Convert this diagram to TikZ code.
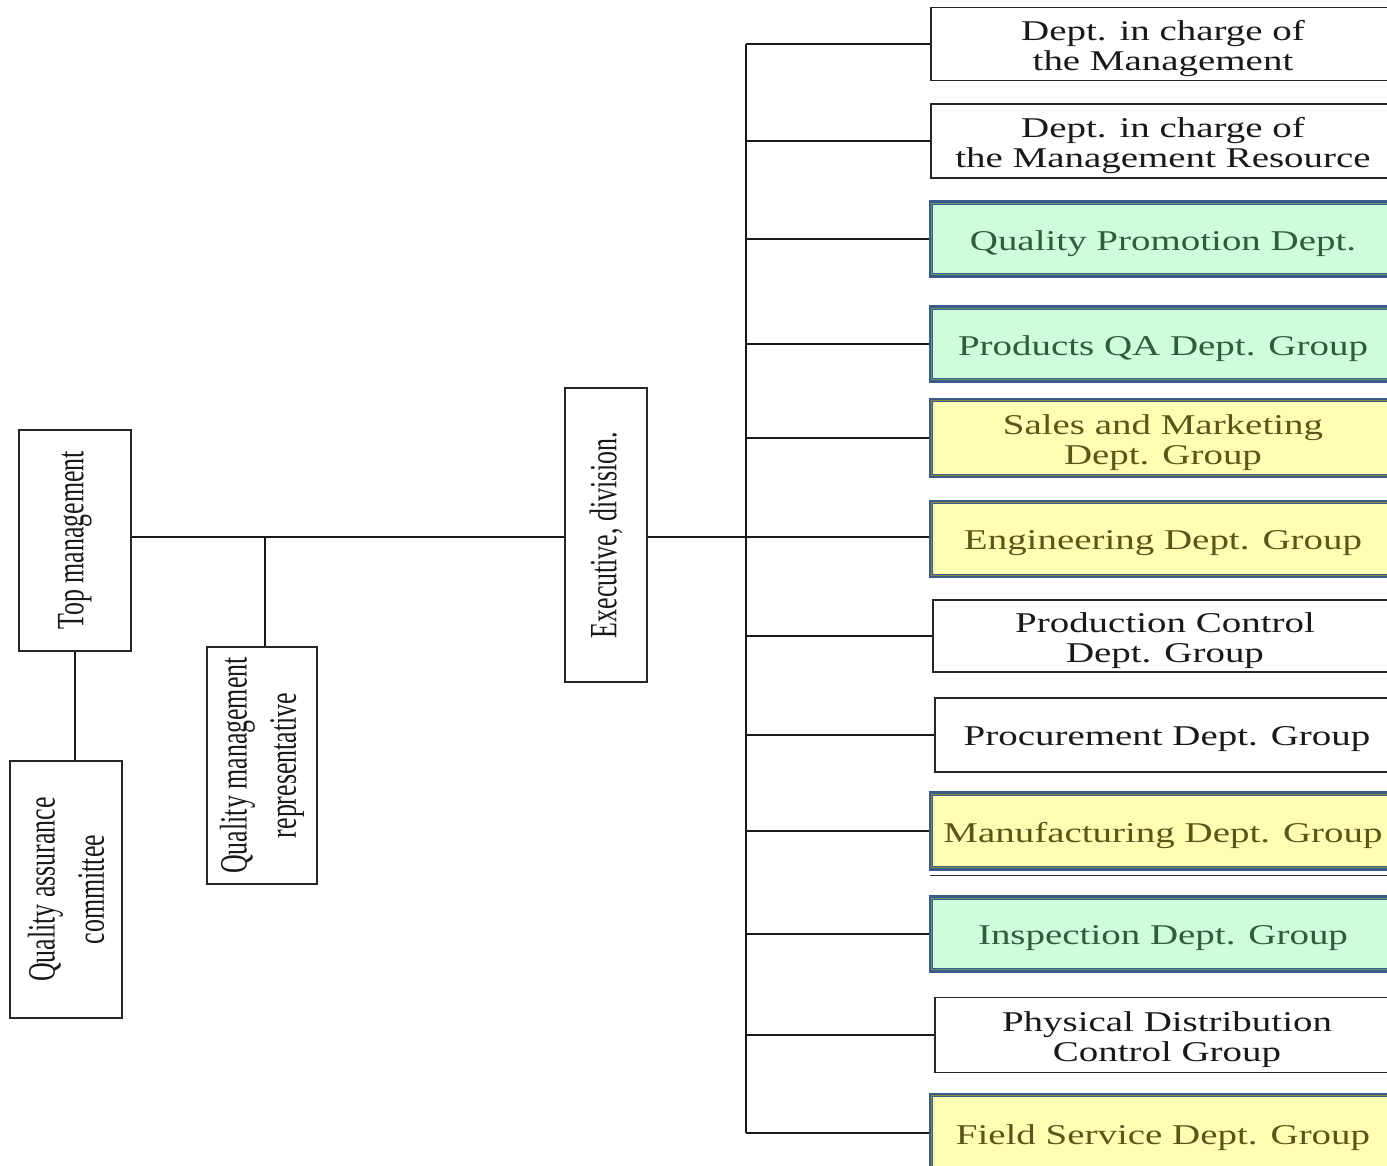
\documentclass[tikz,border=0pt]{standalone}
\usepackage{fontspec}
\setmainfont{Liberation Serif}
\newfontfamily\widefont[FakeStretch=1.36]{Liberation Serif}
\newfontfamily\narrowfont[FakeStretch=0.67]{Liberation Serif}

\definecolor{frameblue}{HTML}{3A5C8C}
\definecolor{mint}{HTML}{CEFCDD}
\definecolor{mintline}{HTML}{5E9A6A}
\definecolor{minttext}{HTML}{2D5E3A}
\definecolor{lemon}{HTML}{FFFFB3}
\definecolor{lemonline}{HTML}{8B8B3A}
\definecolor{lemontext}{HTML}{5A561A}

% department box: #1 style, #2 name, #3 centre, #4 height, #5 text
\newcommand\deptbox[5]{%
  \node[#1, minimum height=#4] (#2) at #3 {};
  \node[#1 label] (#2-label) at ([yshift=-2.4pt]#2.center) {#5};}

\begin{document}
\begin{tikzpicture}[x=0.02cm, y=-0.02cm,
  conn/.style={draw=black!90, line width=0.85pt},
  vbox/.style={draw=black!85, line width=0.8pt, fill=white, rotate=90,
    inner sep=0pt, align=center, text=black!90,
    font=\narrowfont\fontsize{22}{28}\selectfont},
  dept/.style={draw=black!85, line width=0.8pt, fill=white,
    minimum width=9.28cm, inner sep=0pt},
  gdept/.style={dept, draw=frameblue, line width=2.7pt, fill=mint},
  ydept/.style={dept, draw=frameblue, line width=2.7pt, fill=lemon},
  dept label/.style={inner sep=0pt, align=center, text=black!90,
    font=\widefont\fontsize{16.3}{17}\selectfont},
  gdept label/.style={dept label, text=minttext},
  ydept label/.style={dept label, text=lemontext}]

\useasboundingbox (0,0) rectangle (1387,1166);
\clip (0,0) rectangle (1387,1166);

% left-hand hierarchy (vertical labels)
\node[vbox, minimum width=4.42cm, minimum height=2.24cm] (tm)   at (75,540.5) {Top management};
\node[vbox, minimum width=5.14cm, minimum height=2.24cm] (qac)  at (66,889.5) {Quality assurance\\committee};
\node[vbox, minimum width=4.74cm, minimum height=2.20cm] (qmr)  at (262,765.5) {Quality management\\representative};
\node[vbox, minimum width=5.88cm, minimum height=1.64cm] (exec) at (606,535) {Executive, division.};

% departments
\deptbox{dept} {dm}  {(1163,44)}  {1.46cm}{Dept. in charge of\\the Management}
\deptbox{dept} {dmr} {(1163,141)} {1.48cm}{Dept. in charge of\\the Management Resource}
\deptbox{gdept}{qp}  {(1163,239)} {1.46cm}{Quality Promotion Dept.}
\deptbox{gdept}{pqa} {(1163,344)} {1.46cm}{Products QA Dept. Group}
\deptbox{ydept}{sm}  {(1163,438)} {1.52cm}{Sales and Marketing\\Dept. Group}
\deptbox{ydept}{eng} {(1163,539)} {1.48cm}{Engineering Dept. Group}
\deptbox{dept} {pc}  {(1165,636)} {1.44cm}{Production Control\\Dept. Group}
\deptbox{dept} {proc}{(1167,735)} {1.48cm}{Procurement Dept. Group}
\deptbox{ydept}{mfg} {(1163,831)} {1.50cm}{Manufacturing Dept. Group}
\deptbox{gdept}{insp}{(1163,934)} {1.46cm}{Inspection Dept. Group}
\deptbox{dept} {pd}  {(1167,1035)}{1.50cm}{Physical Distribution\\Control Group}
\deptbox{ydept}{fs}  {(1163,1133)}{1.52cm}{Field Service Dept. Group}

% inner rule of the highlighted departments
\foreach \n/\c in {qp/mintline, pqa/mintline, sm/lemonline, eng/lemonline,
                   mfg/lemonline, insp/mintline, fs/lemonline}
  \draw[\c, line width=0.6pt] ([shift={(1.7pt,-1.7pt)}]\n.north west)
     rectangle ([shift={(-1.7pt,1.7pt)}]\n.south east);
\draw[black!80, line width=0.6pt] ([shift={(1pt,-2.7pt)}]mfg.south west)
     -- ([shift={(0pt,-2.7pt)}]mfg.south east);

% connectors
\coordinate (spine) at (0,537);
\coordinate (j)  at (265,537);
\coordinate (bt) at (746,44);
\coordinate (bb) at (746,1133);

\draw[conn] (tm.south |- spine) -- (exec.north |- spine);
\draw[conn] (j) -- (j |- qmr.east);
\draw[conn] (tm.west) -- (tm.west |- qac.east);
\draw[conn] (exec.south |- spine) -- (bt |- spine);
\draw[conn] (bt) -- (bb);
\foreach \n in {dm, dmr, qp, pqa, sm, pc, proc, mfg, insp, pd, fs}
  \draw[conn] (bt |- \n.west) -- (\n.west);
\draw[conn] (bt |- spine) -- (eng.west |- spine);
\end{tikzpicture}
\end{document}
